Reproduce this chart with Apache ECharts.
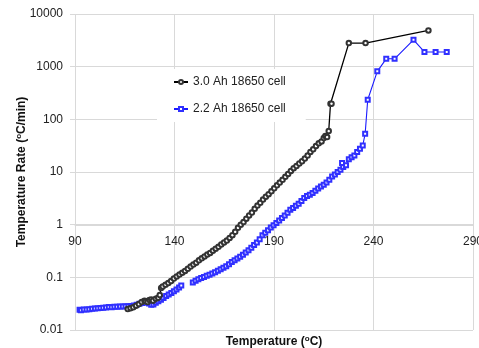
<!DOCTYPE html>
<html>
<head>
<meta charset="utf-8">
<script src="https://cdn.jsdelivr.net/npm/echarts@6/dist/echarts.min.js"></script>
<style>
html,body{margin:0;padding:0;background:#fff;}
#chart{width:479px;height:348px;}
</style>
</head>
<body>
<div id="chart"></div>
<script>
// Series names
const seriesNames = ['3.0 Ah 18650 cell', '2.2 Ah 18650 cell'];

// Y tick labels (log axis, decades)
const yTickLabels = ['0.01', '0.1', '1', '10', '100', '1000', '10000'];

// 3.0 Ah cell: temperature (°C)
const blackT = [116.5,117.9,119.3,120.7,122.1,123.5,124.9,125.6,126.5,127.4,128.3,129.2,130.6,131.8,132.6,
  133.3,134.1,135.5,136.9,138.3,139.7,141.1,142.5,143.9,145.3,146.7,148.1,149.5,150.9,152.3,153.7,155.1,156.5,
  157.9,159.3,160.7,162.1,163.5,164.9,166.3,167.7,169.1,170.5,171.9,173.3,174.7,176.1,177.5,178.9,180.3,181.7,
  183.1,184.5,185.9,187.3,188.7,190.1,191.5,192.9,194.3,195.7,197.1,198.5,199.9,201.3,202.7,204.1,205.5,206.9,
  208.3,209.7,211.1,212.5,213.9,215.0,215.8,216.7,217.5,218.4,218.9,227.6,236.0,267.6];
// 3.0 Ah cell: temperature rate (°C/min)
const blackRate = [0.025,0.026,0.027,0.029,0.031,0.034,0.036,0.035,0.034,0.037,0.038,0.036,0.039,0.041,0.046,
  0.063,0.067,0.072,0.078,0.085,0.095,0.104,0.113,0.122,0.132,0.145,0.16,0.175,0.19,0.21,0.23,0.25,0.27,
  0.29,0.32,0.35,0.38,0.42,0.46,0.5,0.56,0.63,0.73,0.87,1.0,1.12,1.3,1.5,1.7,2.0,2.3,
  2.6,3.0,3.4,3.8,4.3,4.9,5.6,6.3,7.1,8.1,9.2,10.5,11.8,13,14.5,16,18,20.5,
  24,27,31,35,38,44,48,46,60,198,198,2800,2800,4880];

// 2.2 Ah cell: temperature (°C)  ('-' marks the gap in the record)
const blueT = [92.3,93.0,94.4,95.8,97.2,98.6,100.0,101.4,102.8,104.2,105.6,107.0,108.4,109.8,111.2,112.6,114.0,
  115.4,116.8,118.2,119.6,121.0,122.4,123.8,125.2,126.3,127.2,128.3,129.4,130.6,131.9,133.2,134.5,135.8,137.1,
  138.4,139.7,141.0,142.3,143.4,146.0,
  149.2,150.6,152.0,153.4,154.8,156.2,157.6,159.0,160.4,161.8,163.2,164.6,166.0,167.4,168.8,170.2,171.6,173.0,
  174.4,175.8,177.2,178.6,180.0,181.4,182.8,184.2,185.6,187.0,188.4,189.8,191.2,192.6,194.0,195.4,196.8,198.2,
  199.6,201.0,202.4,203.8,205.2,206.6,208.0,209.4,210.8,212.2,213.6,215.0,216.4,217.8,219.2,220.6,222.0,223.4,
  224.2,224.8,226.2,227.6,229.0,230.4,231.8,233.2,234.6,235.8,237.1,241.9,246.4,250.6,260.1,265.6,271.2,276.8];
// 2.2 Ah cell: temperature rate (°C/min)
const blueRate = [0.0243,0.0238,0.0245,0.0246,0.0248,0.0252,0.0255,0.0258,0.0262,0.0265,0.0268,0.0272,0.0270,0.0276,0.0275,0.0278,0.0280,
  0.0282,0.0281,0.0285,0.0292,0.0300,0.0315,0.0325,0.0334,0.0338,0.0320,0.0300,0.0305,0.0328,0.0350,0.0375,0.0405,0.0440,0.0470,
  0.0505,0.0545,0.0590,0.0640,0.0700,'-',
  0.080,0.086,0.092,0.097,0.102,0.107,0.112,0.118,0.125,0.133,0.142,0.152,0.163,0.178,0.195,0.212,0.228,0.245,
  0.268,0.295,0.325,0.365,0.41,0.46,0.53,0.63,0.70,0.78,0.88,0.98,1.07,1.2,1.34,1.5,1.68,1.92,
  2.08,2.28,2.5,2.8,3.2,3.5,3.7,4.0,4.4,4.85,5.3,5.75,6.3,7.1,8.2,9.0,10.0,11.0,
  14.8,12.5,13.5,17.5,19,20.5,24,27.5,32,53,235,815,1410,1410,3240,1900,1900,1900];

const FONT = 'Liberation Sans';
const pairs = (xs, ys) => xs.map((x, i) => [x, ys[i]]);

const chart = echarts.init(document.getElementById('chart'), null, {renderer: 'canvas'});
chart.setOption({
  animation: false,
  backgroundColor: '#fff',
  grid: {left: 75, right: 6, top: 14, bottom: 18, containLabel: false, outerBoundsMode: 'none'},
  legend: {
    data: seriesNames,
    orient: 'vertical',
    left: 157, top: 69,
    padding: [7, 20, 7, 16],
    backgroundColor: '#fff',
    itemGap: 15,
    itemWidth: 14, itemHeight: 5,
    textStyle: {fontFamily: FONT, fontSize: 12, color: '#222'}
  },
  xAxis: [{
    type: 'value', min: 90, max: 290, interval: 50,
    offset: -105,
    axisLine: {show: true, lineStyle: {color: '#d9d9d9'}},
    axisTick: {show: false},
    splitLine: {show: true, lineStyle: {color: '#d9d9d9', width: 1}},
    axisLabel: {fontFamily: FONT, fontSize: 12, color: '#222', margin: 11, showMaxLabel: true}
  }, {
    type: 'value', min: 90, max: 290, position: 'bottom',
    axisLine: {show: false}, axisTick: {show: false}, axisLabel: {show: false}, splitLine: {show: false},
    name: 'Temperature ({s|o}C)', nameLocation: 'middle', nameGap: 5, nameMoveOverlap: false,
    nameTextStyle: {fontFamily: FONT, fontSize: 12, fontWeight: 'bold', color: '#111',
      rich: {s: {fontFamily: FONT, fontSize: 8, fontWeight: 'bold', color: '#111', verticalAlign: 'bottom', padding: [0, 0, 5, 0]}}}
  }],
  yAxis: {
    type: 'log', logBase: 10, min: 0.01, max: 10000,
    axisLine: {show: false},
    axisTick: {show: true, length: 5, lineStyle: {color: '#d9d9d9'}},
    splitLine: {show: true, lineStyle: {color: '#d9d9d9', width: 1}},
    axisLabel: {fontFamily: FONT, fontSize: 12, color: '#222', margin: 12,
      formatter: v => yTickLabels[Math.round(Math.log10(v)) + 2]},
    name: 'Temperature Rate ({s|o}C/min)', nameLocation: 'middle', nameGap: 47, nameMoveOverlap: false,
    nameTextStyle: {fontFamily: FONT, fontSize: 12, fontWeight: 'bold', color: '#111',
      rich: {s: {fontFamily: FONT, fontSize: 8, fontWeight: 'bold', color: '#111', verticalAlign: 'bottom', padding: [0, 0, 5, 0]}}}
  },
  series: [{
    name: seriesNames[0], type: 'line', xAxisIndex: 0,
    data: pairs(blackT, blackRate),
    symbol: 'emptyCircle', symbolSize: 4.5, showAllSymbol: true,
    itemStyle: {color: '#333', borderWidth: 0.8},
    lineStyle: {color: '#000', width: 1.3},
    z: 3
  }, {
    name: seriesNames[1], type: 'line', xAxisIndex: 0,
    data: pairs(blueT, blueRate),
    connectNulls: false,
    symbol: 'emptyRect', symbolSize: 4, showAllSymbol: true,
    itemStyle: {color: '#3030ff', borderWidth: 0.8},
    lineStyle: {color: '#1a1aff', width: 1.1},
    z: 2
  }]
});
</script>
</body>
</html>
